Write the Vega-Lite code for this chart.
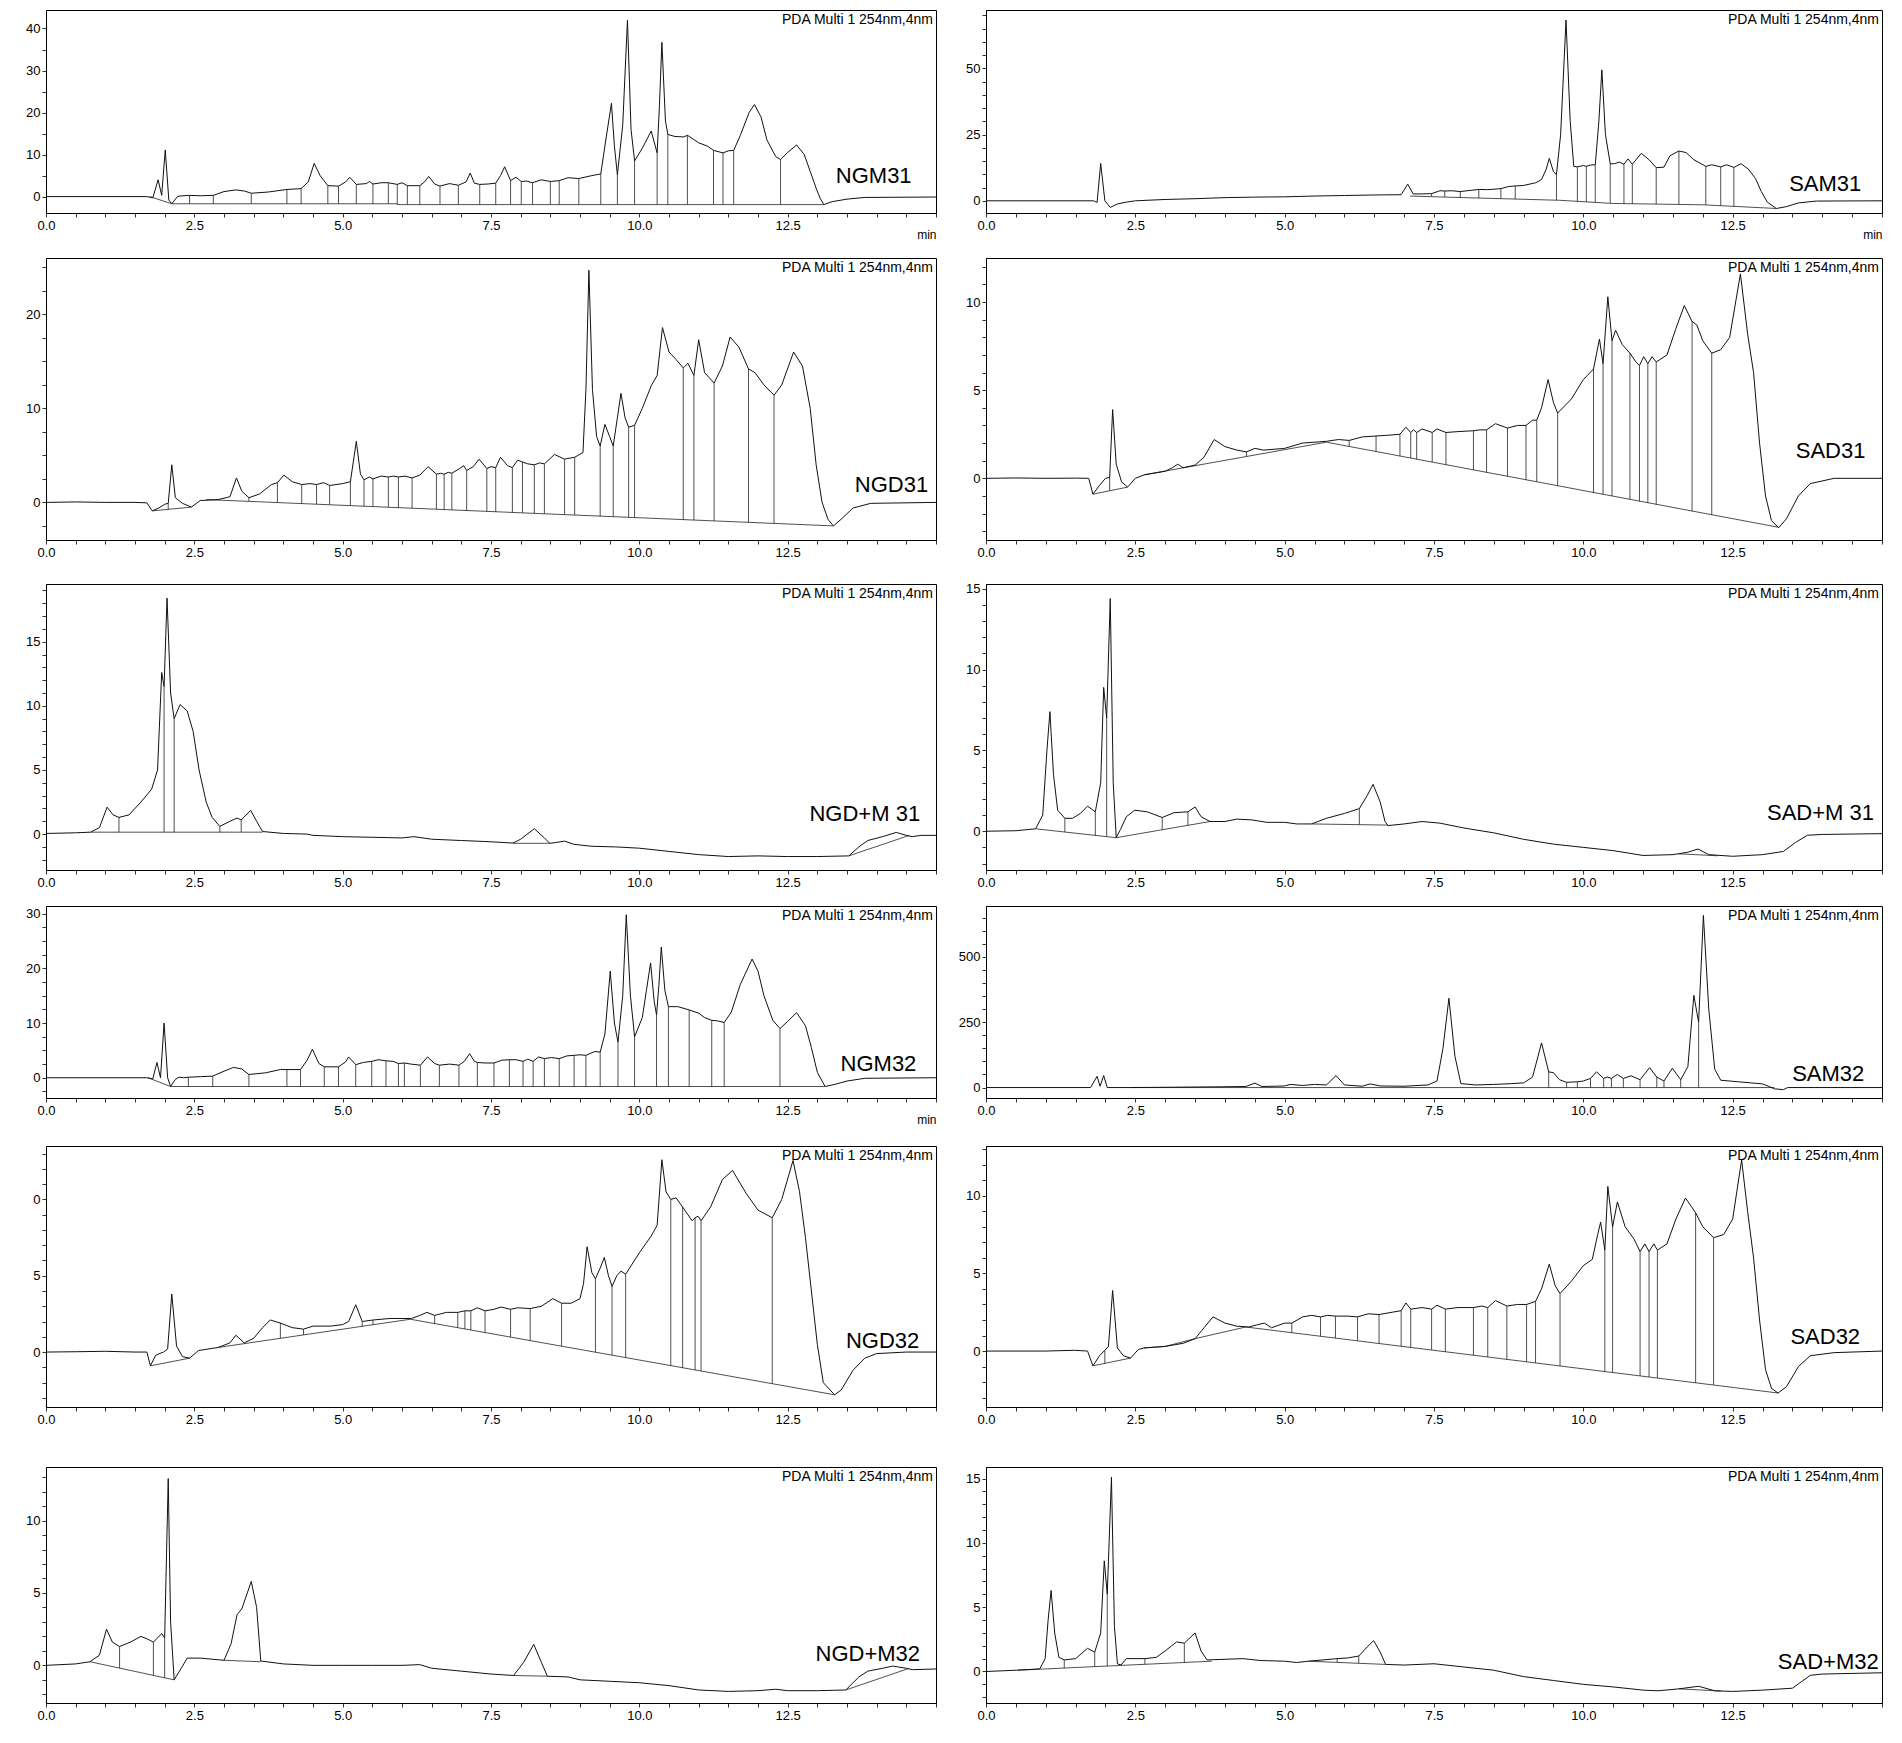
{
"$schema":"https://vega.github.io/schema/vega-lite/v6.json",
"background":"white",
"padding":{"left":15,"top":8,"right":5,"bottom":5},
"config":{
"view":{"stroke":"#000","strokeWidth":1},
"axis":{"domainColor":"#000","domainWidth":1,"tickColor":"#000","tickSize":4,"tickWidth":0.8,"labelColor":"#000","labelFont":"Liberation Sans","labelFontSize":13,"labelPadding":2,"grid":false,"titleFont":"Liberation Sans","titleFontSize":12,"titleFontWeight":"normal","titleColor":"#000","labelOverlap":false,"labelFlush":false},
"axisY":{"minExtent":30,"maxExtent":30}
},
"datasets":{
"t1":[{"t":0,"v":0},{"t":1.7,"v":0},{"t":1.8,"v":-0.3},{"t":1.89,"v":4.0},{"t":1.95,"v":0.3},{"t":2.01,"v":11.1},{"t":2.07,"v":-0.8},{"t":2.12,"v":-1.7},{"t":2.22,"v":0.1},{"t":2.42,"v":0.3},{"t":2.6,"v":0.2},{"t":2.82,"v":0.3},{"t":3.0,"v":1.2},{"t":3.2,"v":1.6},{"t":3.35,"v":1.3},{"t":3.46,"v":0.8},{"t":3.75,"v":1.1},{"t":4.06,"v":1.7},{"t":4.3,"v":1.9},{"t":4.42,"v":3.5},{"t":4.52,"v":7.9},{"t":4.62,"v":5},{"t":4.75,"v":2.6},{"t":4.93,"v":2.5},{"t":5.05,"v":3.5},{"t":5.12,"v":4.6},{"t":5.23,"v":2.9},{"t":5.4,"v":3.1},{"t":5.45,"v":3.6},{"t":5.51,"v":3.0},{"t":5.65,"v":3.3},{"t":5.77,"v":3.3},{"t":5.92,"v":2.9},{"t":6.0,"v":3.3},{"t":6.09,"v":2.6},{"t":6.3,"v":2.6},{"t":6.38,"v":3.5},{"t":6.45,"v":4.8},{"t":6.55,"v":3.0},{"t":6.64,"v":2.5},{"t":6.8,"v":3.1},{"t":6.95,"v":2.7},{"t":7.08,"v":3.5},{"t":7.15,"v":5.6},{"t":7.22,"v":3.2},{"t":7.31,"v":2.9},{"t":7.45,"v":3.0},{"t":7.58,"v":3.2},{"t":7.66,"v":5},{"t":7.73,"v":7.1},{"t":7.83,"v":3.8},{"t":7.92,"v":4.6},{"t":8.01,"v":3.6},{"t":8.1,"v":3.7},{"t":8.2,"v":3.3},{"t":8.35,"v":4.0},{"t":8.5,"v":3.6},{"t":8.65,"v":3.8},{"t":8.8,"v":4.5},{"t":8.98,"v":4.3},{"t":9.2,"v":5.0},{"t":9.35,"v":5.4},{"t":9.43,"v":13},{"t":9.53,"v":22.2},{"t":9.58,"v":12},{"t":9.63,"v":5.2},{"t":9.72,"v":17},{"t":9.8,"v":42.0},{"t":9.86,"v":16},{"t":9.92,"v":8.5},{"t":10.05,"v":11.5},{"t":10.2,"v":15.6},{"t":10.3,"v":10.4},{"t":10.34,"v":22},{"t":10.38,"v":36.7},{"t":10.44,"v":18},{"t":10.48,"v":14.8},{"t":10.6,"v":14.3},{"t":10.75,"v":14.2},{"t":10.81,"v":14.6},{"t":11.0,"v":12.8},{"t":11.15,"v":12},{"t":11.25,"v":11.0},{"t":11.41,"v":10.4},{"t":11.5,"v":10.9},{"t":11.59,"v":11.0},{"t":11.7,"v":14.5},{"t":11.85,"v":20},{"t":11.94,"v":21.9},{"t":12.05,"v":19},{"t":12.15,"v":13.5},{"t":12.3,"v":9.5},{"t":12.38,"v":8.8},{"t":12.5,"v":10.5},{"t":12.65,"v":12.3},{"t":12.78,"v":10},{"t":12.88,"v":6},{"t":12.98,"v":2},{"t":13.05,"v":-0.5},{"t":13.11,"v":-1.9},{"t":13.25,"v":-1.2},{"t":13.5,"v":-0.6},{"t":13.8,"v":-0.2},{"t":15,"v":-0.1}],
"b1":[{"s":1,"t":1.75,"v":0},{"s":1,"t":2.12,"v":-1.7},{"s":1,"t":5.92,"v":-1.7},{"s":2,"t":5.92,"v":-1.9},{"s":2,"t":13.11,"v":-1.9}],
"d1":[{"t":2.42,"b":-1.7,"v":0.3},{"t":2.82,"b":-1.7,"v":0.3},{"t":3.46,"b":-1.7,"v":0.8},{"t":4.06,"b":-1.7,"v":1.7},{"t":4.3,"b":-1.7,"v":1.9},{"t":4.75,"b":-1.7,"v":2.6},{"t":4.93,"b":-1.7,"v":2.5},{"t":5.23,"b":-1.7,"v":2.9},{"t":5.51,"b":-1.7,"v":3.0},{"t":5.77,"b":-1.7,"v":3.3},{"t":5.92,"b":-1.9,"v":2.9},{"t":6.09,"b":-1.9,"v":2.6},{"t":6.3,"b":-1.9,"v":2.6},{"t":6.64,"b":-1.9,"v":2.5},{"t":6.95,"b":-1.9,"v":2.7},{"t":7.31,"b":-1.9,"v":2.9},{"t":7.58,"b":-1.9,"v":3.2},{"t":7.83,"b":-1.9,"v":3.8},{"t":8.01,"b":-1.9,"v":3.6},{"t":8.2,"b":-1.9,"v":3.3},{"t":8.5,"b":-1.9,"v":3.6},{"t":8.65,"b":-1.9,"v":3.8},{"t":8.98,"b":-1.9,"v":4.3},{"t":9.35,"b":-1.9,"v":5.4},{"t":9.63,"b":-1.9,"v":5.2},{"t":9.92,"b":-1.9,"v":8.5},{"t":10.3,"b":-1.9,"v":10.4},{"t":10.48,"b":-1.9,"v":14.8},{"t":10.81,"b":-1.9,"v":14.6},{"t":11.25,"b":-1.9,"v":11.0},{"t":11.41,"b":-1.9,"v":10.4},{"t":11.59,"b":-1.9,"v":11.0},{"t":12.38,"b":-1.9,"v":8.8}],
"t2":[{"t":0,"v":0},{"t":1.8,"v":0},{"t":1.86,"v":-0.6},{"t":1.92,"v":14.1},{"t":1.99,"v":0},{"t":2.08,"v":-2.5},{"t":2.2,"v":-1.2},{"t":2.35,"v":-0.5},{"t":2.5,"v":0},{"t":3.0,"v":0.5},{"t":3.5,"v":0.8},{"t":4.0,"v":1.2},{"t":4.5,"v":1.4},{"t":5.0,"v":1.5},{"t":5.5,"v":1.8},{"t":6.0,"v":2.0},{"t":6.5,"v":2.2},{"t":6.95,"v":2.3},{"t":7.06,"v":6.3},{"t":7.15,"v":2.6},{"t":7.3,"v":2.6},{"t":7.46,"v":2.7},{"t":7.6,"v":3.8},{"t":7.68,"v":3.7},{"t":7.8,"v":3.8},{"t":7.94,"v":3.5},{"t":8.1,"v":3.9},{"t":8.25,"v":4.3},{"t":8.4,"v":4.2},{"t":8.62,"v":4.6},{"t":8.75,"v":5.4},{"t":8.86,"v":5.6},{"t":9.0,"v":5.8},{"t":9.2,"v":6.8},{"t":9.3,"v":8},{"t":9.38,"v":12},{"t":9.43,"v":16.0},{"t":9.5,"v":11},{"t":9.55,"v":9.9},{"t":9.62,"v":25},{"t":9.71,"v":68.2},{"t":9.78,"v":30},{"t":9.84,"v":13},{"t":9.9,"v":12.8},{"t":10.0,"v":13.3},{"t":10.05,"v":13.0},{"t":10.12,"v":13.5},{"t":10.2,"v":13.6},{"t":10.26,"v":30},{"t":10.31,"v":49.4},{"t":10.37,"v":25},{"t":10.45,"v":14},{"t":10.52,"v":14.0},{"t":10.6,"v":14.6},{"t":10.68,"v":13.8},{"t":10.75,"v":15.8},{"t":10.82,"v":13.8},{"t":10.97,"v":17.9},{"t":11.1,"v":15.5},{"t":11.22,"v":12.5},{"t":11.35,"v":12.7},{"t":11.45,"v":17},{"t":11.6,"v":18.8},{"t":11.72,"v":18.2},{"t":11.85,"v":15.5},{"t":12.05,"v":13.0},{"t":12.15,"v":13.6},{"t":12.3,"v":12.8},{"t":12.4,"v":13.6},{"t":12.52,"v":12.6},{"t":12.64,"v":14.0},{"t":12.76,"v":12},{"t":12.88,"v":8.5},{"t":12.98,"v":3.5},{"t":13.08,"v":-0.5},{"t":13.23,"v":-2.9},{"t":13.4,"v":-2.2},{"t":13.6,"v":-0.8},{"t":13.9,"v":-0.1},{"t":15,"v":0}],
"b2":[{"s":1,"t":7.1,"v":1.8},{"s":1,"t":8.0,"v":1.2},{"s":1,"t":9.6,"v":0.2},{"s":1,"t":10.5,"v":-1.0},{"s":1,"t":12.0,"v":-1.5},{"s":1,"t":13.23,"v":-2.9}],
"d2":[{"t":7.46,"b":1.56,"v":2.7},{"t":7.68,"b":1.41,"v":3.7},{"t":7.94,"b":1.24,"v":3.5},{"t":8.25,"b":1.04,"v":4.3},{"t":8.62,"b":0.81,"v":4.6},{"t":8.86,"b":0.66,"v":5.6},{"t":9.55,"b":0.23,"v":9.9},{"t":9.9,"b":-0.2,"v":12.8},{"t":10.05,"b":-0.4,"v":13.0},{"t":10.2,"b":-0.6,"v":13.6},{"t":10.45,"b":-0.93,"v":14.0},{"t":10.68,"b":-1.06,"v":13.8},{"t":10.82,"b":-1.11,"v":13.8},{"t":11.22,"b":-1.24,"v":12.5},{"t":11.6,"b":-1.37,"v":18.8},{"t":12.05,"b":-1.56,"v":13.0},{"t":12.3,"b":-1.84,"v":12.8},{"t":12.52,"b":-2.08,"v":12.6}],
"t3":[{"t":0,"v":0},{"t":0.5,"v":0.05},{"t":1.0,"v":0},{"t":1.5,"v":0},{"t":1.7,"v":-0.05},{"t":1.79,"v":-0.9},{"t":1.9,"v":-0.6},{"t":2.0,"v":-0.2},{"t":2.06,"v":-0.1},{"t":2.12,"v":4.0},{"t":2.18,"v":0.5},{"t":2.3,"v":-0.1},{"t":2.45,"v":-0.5},{"t":2.6,"v":0.2},{"t":2.9,"v":0.3},{"t":3.1,"v":0.6},{"t":3.21,"v":2.6},{"t":3.3,"v":1.2},{"t":3.42,"v":0.5},{"t":3.6,"v":0.9},{"t":3.8,"v":1.9},{"t":3.9,"v":2.1},{"t":4.01,"v":2.9},{"t":4.15,"v":2.2},{"t":4.31,"v":1.9},{"t":4.45,"v":2.0},{"t":4.56,"v":1.9},{"t":4.68,"v":2.1},{"t":4.78,"v":1.8},{"t":5.0,"v":2.0},{"t":5.13,"v":2.2},{"t":5.23,"v":6.5},{"t":5.3,"v":3},{"t":5.36,"v":2.4},{"t":5.45,"v":2.7},{"t":5.51,"v":2.5},{"t":5.65,"v":2.8},{"t":5.77,"v":2.7},{"t":5.85,"v":2.8},{"t":5.94,"v":2.7},{"t":6.05,"v":2.8},{"t":6.17,"v":2.6},{"t":6.3,"v":2.9},{"t":6.44,"v":3.8},{"t":6.58,"v":3.0},{"t":6.65,"v":3.1},{"t":6.71,"v":3.0},{"t":6.78,"v":3.2},{"t":6.84,"v":3.1},{"t":6.97,"v":3.6},{"t":7.04,"v":3.9},{"t":7.09,"v":3.4},{"t":7.2,"v":3.8},{"t":7.3,"v":4.6},{"t":7.43,"v":3.6},{"t":7.5,"v":3.8},{"t":7.58,"v":3.7},{"t":7.66,"v":4.8},{"t":7.78,"v":3.9},{"t":7.86,"v":3.7},{"t":7.95,"v":4.5},{"t":8.03,"v":4.3},{"t":8.12,"v":4.1},{"t":8.23,"v":4.0},{"t":8.32,"v":4.2},{"t":8.4,"v":4.1},{"t":8.57,"v":5.1},{"t":8.74,"v":4.6},{"t":8.82,"v":4.7},{"t":8.91,"v":4.8},{"t":9.05,"v":5.3},{"t":9.1,"v":12},{"t":9.15,"v":24.7},{"t":9.21,"v":12},{"t":9.28,"v":7},{"t":9.34,"v":6.0},{"t":9.42,"v":8.3},{"t":9.5,"v":7},{"t":9.56,"v":6.0},{"t":9.63,"v":9},{"t":9.69,"v":11.6},{"t":9.76,"v":9},{"t":9.82,"v":8.0},{"t":9.92,"v":8.2},{"t":10.05,"v":10},{"t":10.2,"v":12.4},{"t":10.3,"v":13.5},{"t":10.39,"v":18.6},{"t":10.5,"v":16},{"t":10.62,"v":15.2},{"t":10.74,"v":14.3},{"t":10.82,"v":14.8},{"t":10.92,"v":13.5},{"t":11.0,"v":17.3},{"t":11.1,"v":13.8},{"t":11.26,"v":12.7},{"t":11.4,"v":14.5},{"t":11.53,"v":17.6},{"t":11.68,"v":16.5},{"t":11.84,"v":14.2},{"t":11.95,"v":13.8},{"t":12.1,"v":12.5},{"t":12.27,"v":11.4},{"t":12.4,"v":12.5},{"t":12.6,"v":16.0},{"t":12.75,"v":14.5},{"t":12.88,"v":10},{"t":12.98,"v":4},{"t":13.08,"v":0},{"t":13.18,"v":-1.8},{"t":13.27,"v":-2.5},{"t":13.4,"v":-1.8},{"t":13.6,"v":-0.6},{"t":13.9,"v":-0.1},{"t":15,"v":0}],
"b3":[{"s":1,"t":1.79,"v":-0.9},{"s":1,"t":2.45,"v":-0.5},{"s":2,"t":2.7,"v":0.3},{"s":2,"t":13.27,"v":-2.5}],
"d3":[{"t":2.06,"b":-0.74,"v":-0.1},{"t":3.42,"b":0.11,"v":0.5},{"t":3.9,"b":-0.02,"v":2.1},{"t":4.31,"b":-0.13,"v":1.9},{"t":4.56,"b":-0.19,"v":1.9},{"t":4.78,"b":-0.25,"v":1.8},{"t":5.13,"b":-0.34,"v":2.2},{"t":5.36,"b":-0.4,"v":2.4},{"t":5.51,"b":-0.44,"v":2.5},{"t":5.77,"b":-0.51,"v":2.7},{"t":5.94,"b":-0.56,"v":2.7},{"t":6.17,"b":-0.62,"v":2.6},{"t":6.58,"b":-0.73,"v":3.0},{"t":6.71,"b":-0.76,"v":3.0},{"t":6.84,"b":-0.8,"v":3.1},{"t":7.09,"b":-0.86,"v":3.4},{"t":7.43,"b":-0.95,"v":3.6},{"t":7.58,"b":-0.99,"v":3.7},{"t":7.86,"b":-1.07,"v":3.7},{"t":8.03,"b":-1.11,"v":4.3},{"t":8.23,"b":-1.17,"v":4.0},{"t":8.4,"b":-1.21,"v":4.1},{"t":8.74,"b":-1.3,"v":4.6},{"t":8.91,"b":-1.35,"v":4.8},{"t":9.34,"b":-1.46,"v":6.0},{"t":9.56,"b":-1.52,"v":6.0},{"t":9.82,"b":-1.59,"v":8.0},{"t":9.92,"b":-1.61,"v":8.2},{"t":10.74,"b":-1.83,"v":14.3},{"t":10.92,"b":-1.88,"v":13.5},{"t":11.26,"b":-1.97,"v":12.7},{"t":11.84,"b":-2.12,"v":14.2},{"t":12.27,"b":-2.24,"v":11.4}],
"t4":[{"t":0,"v":0},{"t":0.5,"v":0.02},{"t":1.0,"v":0},{"t":1.5,"v":0.01},{"t":1.72,"v":0},{"t":1.79,"v":-0.9},{"t":1.9,"v":-0.4},{"t":2.0,"v":0.0},{"t":2.07,"v":0.05},{"t":2.12,"v":3.9},{"t":2.18,"v":0.8},{"t":2.27,"v":-0.2},{"t":2.37,"v":-0.5},{"t":2.5,"v":0.0},{"t":2.65,"v":0.2},{"t":3.0,"v":0.4},{"t":3.12,"v":0.6},{"t":3.21,"v":0.8},{"t":3.3,"v":0.6},{"t":3.5,"v":0.75},{"t":3.65,"v":1.2},{"t":3.82,"v":2.2},{"t":4.0,"v":1.8},{"t":4.2,"v":1.6},{"t":4.36,"v":1.5},{"t":4.5,"v":1.7},{"t":4.65,"v":1.6},{"t":5.0,"v":1.7},{"t":5.3,"v":2.0},{"t":5.7,"v":2.1},{"t":5.9,"v":2.2},{"t":6.08,"v":2.15},{"t":6.3,"v":2.35},{"t":6.53,"v":2.4},{"t":6.75,"v":2.45},{"t":6.93,"v":2.5},{"t":7.03,"v":2.9},{"t":7.11,"v":2.6},{"t":7.16,"v":2.75},{"t":7.21,"v":2.6},{"t":7.3,"v":2.8},{"t":7.47,"v":2.6},{"t":7.55,"v":2.8},{"t":7.7,"v":2.6},{"t":7.9,"v":2.65},{"t":8.16,"v":2.7},{"t":8.27,"v":2.75},{"t":8.38,"v":2.75},{"t":8.53,"v":3.1},{"t":8.73,"v":2.85},{"t":8.9,"v":3.0},{"t":9.04,"v":3.0},{"t":9.15,"v":3.3},{"t":9.22,"v":3.3},{"t":9.3,"v":4.0},{"t":9.41,"v":5.6},{"t":9.5,"v":4.3},{"t":9.57,"v":3.7},{"t":9.8,"v":4.5},{"t":10.0,"v":5.6},{"t":10.17,"v":6.2},{"t":10.27,"v":7.9},{"t":10.33,"v":6.5},{"t":10.41,"v":10.3},{"t":10.48,"v":7.8},{"t":10.54,"v":8.4},{"t":10.65,"v":7.6},{"t":10.78,"v":7.1},{"t":10.88,"v":6.6},{"t":10.94,"v":6.4},{"t":11.01,"v":6.9},{"t":11.08,"v":6.5},{"t":11.15,"v":6.9},{"t":11.22,"v":6.6},{"t":11.4,"v":7.0},{"t":11.55,"v":8.5},{"t":11.69,"v":9.8},{"t":11.82,"v":8.9},{"t":11.9,"v":8.7},{"t":12.0,"v":7.8},{"t":12.15,"v":7.1},{"t":12.3,"v":7.3},{"t":12.45,"v":8.0},{"t":12.63,"v":11.6},{"t":12.75,"v":8.2},{"t":12.85,"v":6.0},{"t":12.95,"v":2.0},{"t":13.05,"v":-1.0},{"t":13.15,"v":-2.4},{"t":13.27,"v":-2.8},{"t":13.4,"v":-2.3},{"t":13.6,"v":-1.0},{"t":13.8,"v":-0.3},{"t":14.2,"v":0},{"t":15,"v":0}],
"b4":[{"s":1,"t":1.79,"v":-0.9},{"s":1,"t":2.37,"v":-0.5},{"s":2,"t":2.65,"v":0.2},{"s":2,"t":5.7,"v":2.05},{"s":2,"t":13.27,"v":-2.78}],
"d4":[{"t":2.07,"b":-0.71,"v":0.05},{"t":4.36,"b":1.24,"v":1.5},{"t":6.08,"b":1.81,"v":2.15},{"t":6.53,"b":1.53,"v":2.4},{"t":6.93,"b":1.26,"v":2.5},{"t":7.11,"b":1.15,"v":2.6},{"t":7.21,"b":1.08,"v":2.6},{"t":7.47,"b":0.92,"v":2.6},{"t":7.7,"b":0.77,"v":2.6},{"t":8.16,"b":0.47,"v":2.7},{"t":8.38,"b":0.33,"v":2.75},{"t":8.73,"b":0.11,"v":2.85},{"t":9.04,"b":-0.09,"v":3.0},{"t":9.22,"b":-0.2,"v":3.3},{"t":9.57,"b":-0.43,"v":3.7},{"t":10.17,"b":-0.81,"v":6.2},{"t":10.33,"b":-0.92,"v":6.5},{"t":10.48,"b":-1.01,"v":7.8},{"t":10.78,"b":-1.2,"v":7.1},{"t":10.94,"b":-1.31,"v":6.4},{"t":11.08,"b":-1.4,"v":6.5},{"t":11.22,"b":-1.49,"v":6.6},{"t":11.82,"b":-1.87,"v":8.9},{"t":12.15,"b":-2.08,"v":7.1}],
"t5":[{"t":0,"v":0.05},{"t":0.5,"v":0.1},{"t":0.75,"v":0.15},{"t":0.9,"v":0.5},{"t":1.03,"v":2.1},{"t":1.13,"v":1.5},{"t":1.23,"v":1.3},{"t":1.4,"v":1.5},{"t":1.6,"v":2.5},{"t":1.78,"v":3.5},{"t":1.88,"v":5},{"t":1.95,"v":12.6},{"t":1.99,"v":11.5},{"t":2.04,"v":18.4},{"t":2.1,"v":11},{"t":2.16,"v":9.0},{"t":2.26,"v":10.1},{"t":2.38,"v":9.6},{"t":2.48,"v":8},{"t":2.58,"v":5},{"t":2.7,"v":2.5},{"t":2.8,"v":1.3},{"t":2.93,"v":0.6},{"t":3.1,"v":1.0},{"t":3.22,"v":1.25},{"t":3.29,"v":1.1},{"t":3.45,"v":1.85},{"t":3.55,"v":1.0},{"t":3.65,"v":0.2},{"t":4.0,"v":0.05},{"t":4.4,"v":0.0},{"t":4.5,"v":-0.1},{"t":5.0,"v":-0.2},{"t":5.5,"v":-0.25},{"t":6.0,"v":-0.3},{"t":6.2,"v":-0.2},{"t":6.5,"v":-0.4},{"t":7.0,"v":-0.5},{"t":7.5,"v":-0.6},{"t":7.87,"v":-0.7},{"t":8.0,"v":-0.4},{"t":8.23,"v":0.42},{"t":8.4,"v":-0.3},{"t":8.49,"v":-0.72},{"t":8.6,"v":-0.65},{"t":8.74,"v":-0.55},{"t":8.9,"v":-0.8},{"t":9.2,"v":-0.95},{"t":9.6,"v":-1.0},{"t":10.0,"v":-1.1},{"t":10.5,"v":-1.35},{"t":11.0,"v":-1.6},{"t":11.5,"v":-1.75},{"t":12.0,"v":-1.7},{"t":12.5,"v":-1.75},{"t":13.0,"v":-1.75},{"t":13.53,"v":-1.7},{"t":13.7,"v":-1.0},{"t":13.85,"v":-0.5},{"t":14.1,"v":-0.2},{"t":14.33,"v":0.13},{"t":14.5,"v":-0.1},{"t":14.6,"v":-0.2},{"t":14.75,"v":-0.1},{"t":15,"v":-0.1}],
"b5":[{"s":1,"t":0.75,"v":0.15},{"s":1,"t":3.65,"v":0.15},{"s":2,"t":7.87,"v":-0.72},{"s":2,"t":8.49,"v":-0.72},{"s":3,"t":13.53,"v":-1.7},{"s":3,"t":14.55,"v":-0.1}],
"d5":[{"t":1.23,"b":0.15,"v":1.3},{"t":1.99,"b":0.15,"v":11.5},{"t":2.16,"b":0.15,"v":9.0},{"t":2.93,"b":0.15,"v":0.6},{"t":3.29,"b":0.15,"v":1.1}],
"t6":[{"t":0,"v":0},{"t":0.5,"v":0.03},{"t":0.83,"v":0.15},{"t":0.95,"v":1.0},{"t":1.02,"v":5},{"t":1.07,"v":7.4},{"t":1.13,"v":3.5},{"t":1.2,"v":1.3},{"t":1.32,"v":0.8},{"t":1.45,"v":0.8},{"t":1.58,"v":1.1},{"t":1.7,"v":1.55},{"t":1.83,"v":1.2},{"t":1.92,"v":3},{"t":1.97,"v":8.9},{"t":2.02,"v":7},{"t":2.08,"v":14.4},{"t":2.13,"v":3},{"t":2.18,"v":-0.4},{"t":2.25,"v":0.1},{"t":2.35,"v":0.9},{"t":2.49,"v":1.3},{"t":2.7,"v":1.2},{"t":2.95,"v":0.85},{"t":3.15,"v":1.15},{"t":3.38,"v":1.2},{"t":3.5,"v":1.5},{"t":3.6,"v":0.9},{"t":3.75,"v":0.6},{"t":4.0,"v":0.6},{"t":4.2,"v":0.75},{"t":4.45,"v":0.7},{"t":4.7,"v":0.55},{"t":5.0,"v":0.55},{"t":5.2,"v":0.45},{"t":5.45,"v":0.45},{"t":5.7,"v":0.8},{"t":6.0,"v":1.1},{"t":6.25,"v":1.4},{"t":6.38,"v":2.2},{"t":6.48,"v":2.9},{"t":6.6,"v":1.8},{"t":6.68,"v":0.6},{"t":6.73,"v":0.35},{"t":7.0,"v":0.45},{"t":7.3,"v":0.6},{"t":7.6,"v":0.5},{"t":8.0,"v":0.2},{"t":8.5,"v":-0.1},{"t":9.0,"v":-0.5},{"t":9.5,"v":-0.8},{"t":10.0,"v":-1.0},{"t":10.5,"v":-1.2},{"t":11.0,"v":-1.5},{"t":11.5,"v":-1.45},{"t":11.75,"v":-1.3},{"t":11.92,"v":-1.1},{"t":12.1,"v":-1.45},{"t":12.5,"v":-1.55},{"t":13.0,"v":-1.45},{"t":13.35,"v":-1.25},{"t":13.55,"v":-0.7},{"t":13.75,"v":-0.25},{"t":14.0,"v":-0.2},{"t":15,"v":-0.15}],
"b6":[{"s":1,"t":0.83,"v":0.15},{"s":1,"t":2.18,"v":-0.4},{"s":2,"t":2.18,"v":-0.4},{"s":2,"t":3.75,"v":0.6},{"s":3,"t":5.45,"v":0.45},{"s":3,"t":6.73,"v":0.38},{"s":4,"t":11.6,"v":-1.4},{"s":4,"t":12.25,"v":-1.52}],
"d6":[{"t":1.32,"b":-0.05,"v":0.8},{"t":1.83,"b":-0.26,"v":1.2},{"t":2.02,"b":-0.33,"v":7},{"t":2.95,"b":0.09,"v":0.85},{"t":3.38,"b":0.36,"v":1.2},{"t":6.25,"b":0.41,"v":1.4}],
"t7":[{"t":0,"v":0},{"t":1.7,"v":0},{"t":1.8,"v":-0.2},{"t":1.87,"v":2.8},{"t":1.93,"v":0},{"t":1.99,"v":10.0},{"t":2.05,"v":0},{"t":2.1,"v":-1.6},{"t":2.18,"v":-0.3},{"t":2.24,"v":0.1},{"t":2.32,"v":0.0},{"t":2.4,"v":0.1},{"t":2.6,"v":0.2},{"t":2.81,"v":0.3},{"t":3.0,"v":1.2},{"t":3.16,"v":1.9},{"t":3.3,"v":1.6},{"t":3.42,"v":0.6},{"t":3.7,"v":0.9},{"t":3.95,"v":1.5},{"t":4.06,"v":1.5},{"t":4.29,"v":1.5},{"t":4.4,"v":3.2},{"t":4.49,"v":5.2},{"t":4.6,"v":2.6},{"t":4.69,"v":2.0},{"t":4.93,"v":2.0},{"t":5.05,"v":2.9},{"t":5.1,"v":3.8},{"t":5.22,"v":2.4},{"t":5.35,"v":2.8},{"t":5.49,"v":3.0},{"t":5.6,"v":3.3},{"t":5.73,"v":3.1},{"t":5.85,"v":3.0},{"t":5.94,"v":2.6},{"t":6.04,"v":2.7},{"t":6.15,"v":2.5},{"t":6.31,"v":2.3},{"t":6.43,"v":3.8},{"t":6.55,"v":2.6},{"t":6.63,"v":2.3},{"t":6.8,"v":2.5},{"t":6.96,"v":2.3},{"t":7.05,"v":3},{"t":7.14,"v":4.4},{"t":7.22,"v":3.0},{"t":7.27,"v":2.8},{"t":7.4,"v":2.7},{"t":7.55,"v":2.7},{"t":7.68,"v":3.2},{"t":7.81,"v":3.3},{"t":7.92,"v":3.3},{"t":8.04,"v":3.0},{"t":8.12,"v":3.4},{"t":8.21,"v":3.0},{"t":8.3,"v":3.8},{"t":8.4,"v":3.5},{"t":8.52,"v":3.7},{"t":8.65,"v":3.5},{"t":8.78,"v":4.0},{"t":8.9,"v":4.1},{"t":9.0,"v":4.2},{"t":9.1,"v":4.1},{"t":9.25,"v":4.8},{"t":9.34,"v":4.7},{"t":9.42,"v":8},{"t":9.51,"v":19.5},{"t":9.58,"v":10},{"t":9.64,"v":6.5},{"t":9.72,"v":15},{"t":9.78,"v":29.8},{"t":9.85,"v":15},{"t":9.92,"v":7.5},{"t":10.05,"v":11},{"t":10.12,"v":16},{"t":10.19,"v":21.0},{"t":10.25,"v":14},{"t":10.29,"v":11.5},{"t":10.33,"v":17},{"t":10.37,"v":23.9},{"t":10.43,"v":16},{"t":10.49,"v":13.0},{"t":10.65,"v":13.0},{"t":10.84,"v":12.4},{"t":11.0,"v":11.8},{"t":11.1,"v":11.0},{"t":11.22,"v":10.5},{"t":11.32,"v":10.4},{"t":11.43,"v":10.1},{"t":11.55,"v":12},{"t":11.7,"v":17},{"t":11.9,"v":21.7},{"t":12.0,"v":19.5},{"t":12.1,"v":15},{"t":12.25,"v":10.5},{"t":12.37,"v":9.0},{"t":12.5,"v":10.3},{"t":12.65,"v":11.9},{"t":12.8,"v":9.5},{"t":12.9,"v":5.5},{"t":13.0,"v":1},{"t":13.13,"v":-1.6},{"t":13.3,"v":-1.2},{"t":13.5,"v":-0.6},{"t":13.8,"v":-0.1},{"t":15,"v":0}],
"b7":[{"s":1,"t":1.72,"v":0},{"s":1,"t":2.1,"v":-1.6},{"s":1,"t":13.13,"v":-1.6}],
"d7":[{"t":2.4,"b":-1.6,"v":0.1},{"t":2.81,"b":-1.6,"v":0.3},{"t":3.42,"b":-1.6,"v":0.6},{"t":4.06,"b":-1.6,"v":1.5},{"t":4.29,"b":-1.6,"v":1.5},{"t":4.69,"b":-1.6,"v":2.0},{"t":4.93,"b":-1.6,"v":2.0},{"t":5.22,"b":-1.6,"v":2.4},{"t":5.49,"b":-1.6,"v":3.0},{"t":5.73,"b":-1.6,"v":3.1},{"t":5.94,"b":-1.6,"v":2.6},{"t":6.04,"b":-1.6,"v":2.7},{"t":6.31,"b":-1.6,"v":2.3},{"t":6.63,"b":-1.6,"v":2.3},{"t":6.96,"b":-1.6,"v":2.3},{"t":7.27,"b":-1.6,"v":2.8},{"t":7.55,"b":-1.6,"v":2.7},{"t":7.81,"b":-1.6,"v":3.3},{"t":8.04,"b":-1.6,"v":3.0},{"t":8.21,"b":-1.6,"v":3.0},{"t":8.4,"b":-1.6,"v":3.5},{"t":8.65,"b":-1.6,"v":3.5},{"t":8.9,"b":-1.6,"v":4.1},{"t":9.1,"b":-1.6,"v":4.1},{"t":9.34,"b":-1.6,"v":4.7},{"t":9.64,"b":-1.6,"v":6.5},{"t":9.92,"b":-1.6,"v":7.5},{"t":10.29,"b":-1.6,"v":11.5},{"t":10.49,"b":-1.6,"v":13.0},{"t":10.84,"b":-1.6,"v":12.4},{"t":11.22,"b":-1.6,"v":10.5},{"t":11.43,"b":-1.6,"v":10.1},{"t":12.37,"b":-1.6,"v":9.0}],
"t8":[{"t":0,"v":0},{"t":1.75,"v":0},{"t":1.86,"v":43},{"t":1.91,"v":5},{"t":1.97,"v":46},{"t":2.03,"v":0},{"t":2.4,"v":0},{"t":3.0,"v":1},{"t":3.5,"v":2},{"t":4.0,"v":3},{"t":4.35,"v":4},{"t":4.5,"v":17},{"t":4.62,"v":4},{"t":5.0,"v":6},{"t":5.09,"v":12},{"t":5.3,"v":8},{"t":5.5,"v":12},{"t":5.7,"v":10},{"t":5.86,"v":46},{"t":6.0,"v":10},{"t":6.3,"v":5},{"t":6.43,"v":14},{"t":6.6,"v":6},{"t":7.0,"v":5},{"t":7.4,"v":10},{"t":7.55,"v":25},{"t":7.65,"v":150},{"t":7.75,"v":342},{"t":7.85,"v":120},{"t":7.95,"v":15},{"t":8.2,"v":10},{"t":8.5,"v":12},{"t":8.8,"v":15},{"t":9.0,"v":18},{"t":9.15,"v":40},{"t":9.3,"v":171},{"t":9.42,"v":60},{"t":9.5,"v":57},{"t":9.6,"v":30},{"t":9.72,"v":20},{"t":9.9,"v":22},{"t":10.0,"v":25},{"t":10.12,"v":35},{"t":10.22,"v":60},{"t":10.34,"v":35},{"t":10.4,"v":40},{"t":10.47,"v":35},{"t":10.57,"v":50},{"t":10.67,"v":35},{"t":10.8,"v":45},{"t":10.95,"v":30},{"t":11.11,"v":76},{"t":11.23,"v":40},{"t":11.35,"v":25},{"t":11.49,"v":74},{"t":11.63,"v":30},{"t":11.75,"v":80},{"t":11.85,"v":353},{"t":11.93,"v":250},{"t":12.01,"v":659},{"t":12.1,"v":300},{"t":12.2,"v":70},{"t":12.3,"v":28},{"t":12.6,"v":22},{"t":12.8,"v":18},{"t":13.0,"v":14},{"t":13.1,"v":5},{"t":13.2,"v":-5},{"t":13.35,"v":-8},{"t":13.42,"v":0},{"t":15,"v":0}],
"b8":[{"s":1,"t":2.4,"v":0},{"s":1,"t":13.2,"v":0}],
"d8":[{"t":9.42,"b":0,"v":60},{"t":9.72,"b":0,"v":20},{"t":9.9,"b":0,"v":22},{"t":10.12,"b":0,"v":35},{"t":10.34,"b":0,"v":35},{"t":10.47,"b":0,"v":35},{"t":10.67,"b":0,"v":35},{"t":10.95,"b":0,"v":30},{"t":11.23,"b":0,"v":40},{"t":11.35,"b":0,"v":25},{"t":11.63,"b":0,"v":30},{"t":11.93,"b":0,"v":250}],
"t9":[{"t":0,"v":0},{"t":0.5,"v":0.02},{"t":1.0,"v":0.05},{"t":1.5,"v":0},{"t":1.7,"v":0},{"t":1.76,"v":-0.9},{"t":1.85,"v":-0.2},{"t":1.98,"v":0},{"t":2.05,"v":0.2},{"t":2.12,"v":3.8},{"t":2.2,"v":0.4},{"t":2.3,"v":-0.3},{"t":2.42,"v":-0.4},{"t":2.57,"v":0.1},{"t":2.9,"v":0.3},{"t":3.1,"v":0.6},{"t":3.2,"v":1.1},{"t":3.34,"v":0.6},{"t":3.5,"v":0.9},{"t":3.65,"v":1.6},{"t":3.78,"v":2.1},{"t":3.95,"v":1.9},{"t":4.15,"v":1.6},{"t":4.34,"v":1.5},{"t":4.5,"v":1.7},{"t":4.8,"v":1.7},{"t":5.0,"v":1.8},{"t":5.1,"v":2.0},{"t":5.22,"v":3.1},{"t":5.33,"v":2.0},{"t":5.51,"v":2.1},{"t":5.8,"v":2.2},{"t":6.16,"v":2.2},{"t":6.3,"v":2.4},{"t":6.42,"v":2.6},{"t":6.55,"v":2.4},{"t":6.75,"v":2.6},{"t":6.94,"v":2.6},{"t":7.06,"v":2.7},{"t":7.16,"v":2.7},{"t":7.27,"v":2.9},{"t":7.4,"v":2.7},{"t":7.55,"v":2.8},{"t":7.67,"v":2.95},{"t":7.83,"v":2.8},{"t":7.95,"v":2.9},{"t":8.16,"v":2.85},{"t":8.35,"v":3.0},{"t":8.54,"v":3.5},{"t":8.69,"v":3.2},{"t":8.85,"v":3.2},{"t":9.0,"v":3.5},{"t":9.06,"v":4.5},{"t":9.12,"v":6.9},{"t":9.2,"v":5.2},{"t":9.26,"v":4.8},{"t":9.34,"v":5.5},{"t":9.41,"v":6.2},{"t":9.48,"v":5},{"t":9.54,"v":4.3},{"t":9.62,"v":5.0},{"t":9.69,"v":5.3},{"t":9.77,"v":5.1},{"t":10.0,"v":6.5},{"t":10.2,"v":7.6},{"t":10.3,"v":8.3},{"t":10.38,"v":12.6},{"t":10.45,"v":10.5},{"t":10.53,"v":10.0},{"t":10.62,"v":10.1},{"t":10.73,"v":9.5},{"t":10.89,"v":8.6},{"t":10.94,"v":8.8},{"t":10.99,"v":8.9},{"t":11.04,"v":8.6},{"t":11.2,"v":9.5},{"t":11.4,"v":11.3},{"t":11.57,"v":11.9},{"t":11.8,"v":10.4},{"t":12.0,"v":9.3},{"t":12.24,"v":8.8},{"t":12.4,"v":10},{"t":12.59,"v":12.55},{"t":12.7,"v":10.5},{"t":12.8,"v":7.5},{"t":12.9,"v":4},{"t":13.0,"v":0.5},{"t":13.1,"v":-2.0},{"t":13.29,"v":-2.8},{"t":13.4,"v":-2.5},{"t":13.6,"v":-1.2},{"t":13.8,"v":-0.4},{"t":14.0,"v":-0.1},{"t":14.5,"v":0},{"t":15,"v":0}],
"b9":[{"s":1,"t":1.76,"v":-0.9},{"s":1,"t":2.42,"v":-0.4},{"s":2,"t":2.9,"v":0.3},{"s":2,"t":6.14,"v":2.15},{"s":2,"t":13.29,"v":-2.8}],
"d9":[{"t":3.95,"b":0.9,"v":1.9},{"t":4.34,"b":1.12,"v":1.5},{"t":5.33,"b":1.69,"v":2.0},{"t":5.51,"b":1.79,"v":2.1},{"t":6.55,"b":1.87,"v":2.4},{"t":6.94,"b":1.6,"v":2.6},{"t":7.06,"b":1.51,"v":2.7},{"t":7.16,"b":1.44,"v":2.7},{"t":7.4,"b":1.28,"v":2.7},{"t":7.83,"b":0.98,"v":2.8},{"t":8.16,"b":0.75,"v":2.85},{"t":8.69,"b":0.39,"v":3.2},{"t":9.26,"b":-0.01,"v":4.8},{"t":9.54,"b":-0.2,"v":4.3},{"t":9.77,"b":-0.36,"v":5.1},{"t":10.53,"b":-0.89,"v":10.0},{"t":10.73,"b":-1.03,"v":9.5},{"t":10.94,"b":-1.17,"v":8.8},{"t":11.04,"b":-1.24,"v":8.6},{"t":12.24,"b":-2.07,"v":8.8}],
"t10":[{"t":0,"v":0},{"t":0.5,"v":0},{"t":1.0,"v":0},{"t":1.48,"v":0.05},{"t":1.7,"v":0},{"t":1.79,"v":-0.95},{"t":1.9,"v":-0.3},{"t":1.99,"v":0.05},{"t":2.05,"v":0.3},{"t":2.12,"v":3.9},{"t":2.2,"v":0.2},{"t":2.3,"v":-0.3},{"t":2.42,"v":-0.45},{"t":2.55,"v":0.1},{"t":2.64,"v":0.2},{"t":3.0,"v":0.3},{"t":3.3,"v":0.5},{"t":3.5,"v":0.8},{"t":3.65,"v":1.5},{"t":3.8,"v":2.2},{"t":4.0,"v":1.8},{"t":4.2,"v":1.6},{"t":4.4,"v":1.55},{"t":4.55,"v":1.7},{"t":4.66,"v":1.8},{"t":4.78,"v":1.5},{"t":5.0,"v":1.8},{"t":5.12,"v":1.8},{"t":5.3,"v":2.2},{"t":5.45,"v":2.3},{"t":5.6,"v":2.2},{"t":5.72,"v":2.3},{"t":5.85,"v":2.25},{"t":6.05,"v":2.25},{"t":6.22,"v":2.2},{"t":6.4,"v":2.4},{"t":6.58,"v":2.35},{"t":6.8,"v":2.5},{"t":6.95,"v":2.6},{"t":7.03,"v":3.1},{"t":7.11,"v":2.7},{"t":7.3,"v":2.8},{"t":7.46,"v":2.7},{"t":7.55,"v":2.95},{"t":7.69,"v":2.7},{"t":7.9,"v":2.8},{"t":8.16,"v":2.8},{"t":8.3,"v":2.9},{"t":8.4,"v":2.8},{"t":8.53,"v":3.25},{"t":8.72,"v":2.9},{"t":8.9,"v":3.0},{"t":9.05,"v":3.0},{"t":9.2,"v":3.2},{"t":9.3,"v":4.0},{"t":9.43,"v":5.6},{"t":9.53,"v":4.2},{"t":9.61,"v":3.7},{"t":9.8,"v":4.5},{"t":10.0,"v":5.5},{"t":10.15,"v":5.9},{"t":10.24,"v":7.5},{"t":10.29,"v":8.3},{"t":10.36,"v":6.5},{"t":10.41,"v":10.6},{"t":10.49,"v":8.0},{"t":10.57,"v":9.6},{"t":10.7,"v":8.0},{"t":10.85,"v":7.2},{"t":10.95,"v":6.4},{"t":11.03,"v":6.9},{"t":11.1,"v":6.4},{"t":11.18,"v":6.9},{"t":11.24,"v":6.5},{"t":11.4,"v":6.9},{"t":11.55,"v":8.5},{"t":11.71,"v":9.85},{"t":11.88,"v":8.9},{"t":12.0,"v":8.0},{"t":12.18,"v":7.3},{"t":12.35,"v":7.5},{"t":12.5,"v":8.5},{"t":12.65,"v":12.3},{"t":12.75,"v":9.0},{"t":12.85,"v":6.0},{"t":12.95,"v":2.0},{"t":13.05,"v":-1.2},{"t":13.15,"v":-2.4},{"t":13.26,"v":-2.7},{"t":13.4,"v":-2.3},{"t":13.6,"v":-1.0},{"t":13.8,"v":-0.3},{"t":14.2,"v":-0.1},{"t":15,"v":0}],
"b10":[{"s":1,"t":1.79,"v":-0.95},{"s":1,"t":2.42,"v":-0.45},{"s":2,"t":2.64,"v":0.2},{"s":2,"t":3.0,"v":0.3},{"s":2,"t":3.5,"v":0.8},{"s":2,"t":4.35,"v":1.55},{"s":2,"t":13.26,"v":-2.7}],
"d10":[{"t":1.99,"b":-0.8,"v":0.05},{"t":5.12,"b":1.18,"v":1.8},{"t":5.6,"b":0.95,"v":2.2},{"t":5.85,"b":0.83,"v":2.25},{"t":6.22,"b":0.66,"v":2.2},{"t":6.58,"b":0.49,"v":2.35},{"t":6.95,"b":0.31,"v":2.6},{"t":7.11,"b":0.23,"v":2.7},{"t":7.46,"b":0.07,"v":2.7},{"t":7.69,"b":-0.04,"v":2.7},{"t":8.16,"b":-0.27,"v":2.8},{"t":8.4,"b":-0.38,"v":2.8},{"t":8.72,"b":-0.53,"v":2.9},{"t":9.05,"b":-0.69,"v":3.0},{"t":9.2,"b":-0.76,"v":3.2},{"t":9.61,"b":-0.96,"v":3.7},{"t":10.36,"b":-1.32,"v":6.5},{"t":10.49,"b":-1.38,"v":8.0},{"t":10.95,"b":-1.6,"v":6.4},{"t":11.1,"b":-1.67,"v":6.4},{"t":11.24,"b":-1.74,"v":6.5},{"t":11.88,"b":-2.04,"v":8.9},{"t":12.18,"b":-2.18,"v":7.3}],
"t11":[{"t":0,"v":0},{"t":0.5,"v":0.1},{"t":0.74,"v":0.25},{"t":0.9,"v":0.7},{"t":1.02,"v":2.5},{"t":1.12,"v":1.6},{"t":1.24,"v":1.3},{"t":1.42,"v":1.6},{"t":1.6,"v":2.0},{"t":1.72,"v":1.8},{"t":1.81,"v":1.6},{"t":1.95,"v":2.2},{"t":2.0,"v":1.9},{"t":2.06,"v":12.9},{"t":2.1,"v":3},{"t":2.16,"v":-1.0},{"t":2.28,"v":-0.2},{"t":2.38,"v":0.5},{"t":2.6,"v":0.5},{"t":3.0,"v":0.35},{"t":3.12,"v":1.5},{"t":3.22,"v":3.5},{"t":3.3,"v":3.9},{"t":3.46,"v":5.8},{"t":3.55,"v":4},{"t":3.62,"v":0.3},{"t":4.0,"v":0.1},{"t":4.5,"v":0.0},{"t":5.0,"v":0},{"t":5.5,"v":0},{"t":6.0,"v":0},{"t":6.3,"v":0.05},{"t":6.5,"v":-0.2},{"t":7.0,"v":-0.4},{"t":7.5,"v":-0.6},{"t":7.88,"v":-0.7},{"t":8.05,"v":0.2},{"t":8.22,"v":1.45},{"t":8.35,"v":0.2},{"t":8.45,"v":-0.75},{"t":8.8,"v":-0.8},{"t":9.0,"v":-1.0},{"t":9.5,"v":-1.1},{"t":10.0,"v":-1.2},{"t":10.5,"v":-1.4},{"t":11.0,"v":-1.7},{"t":11.5,"v":-1.8},{"t":12.0,"v":-1.75},{"t":12.3,"v":-1.65},{"t":12.5,"v":-1.75},{"t":13.0,"v":-1.75},{"t":13.48,"v":-1.7},{"t":13.7,"v":-0.8},{"t":13.85,"v":-0.4},{"t":14.1,"v":-0.2},{"t":14.27,"v":-0.05},{"t":14.5,"v":-0.2},{"t":14.6,"v":-0.3},{"t":15,"v":-0.25}],
"b11":[{"s":1,"t":0.74,"v":0.25},{"s":1,"t":2.16,"v":-1.0},{"s":2,"t":3.0,"v":0.35},{"s":2,"t":3.62,"v":0.25},{"s":3,"t":7.88,"v":-0.7},{"s":3,"t":8.45,"v":-0.75},{"s":4,"t":13.48,"v":-1.7},{"s":4,"t":14.55,"v":-0.2}],
"d11":[{"t":1.24,"b":-0.19,"v":1.3},{"t":1.81,"b":-0.69,"v":1.6},{"t":2.0,"b":-0.86,"v":1.9}],
"t12":[{"t":0,"v":0},{"t":0.51,"v":0.1},{"t":0.9,"v":0.2},{"t":0.99,"v":1.0},{"t":1.04,"v":4},{"t":1.09,"v":6.3},{"t":1.15,"v":3},{"t":1.22,"v":1.1},{"t":1.31,"v":0.9},{"t":1.5,"v":1.0},{"t":1.7,"v":1.8},{"t":1.82,"v":1.5},{"t":1.92,"v":3},{"t":1.98,"v":8.6},{"t":2.03,"v":6},{"t":2.1,"v":15.1},{"t":2.15,"v":3.5},{"t":2.2,"v":0.6},{"t":2.26,"v":0.5},{"t":2.35,"v":1.0},{"t":2.66,"v":1.0},{"t":2.85,"v":1.1},{"t":3.0,"v":1.6},{"t":3.19,"v":2.3},{"t":3.32,"v":2.2},{"t":3.5,"v":3.0},{"t":3.6,"v":1.6},{"t":3.7,"v":0.9},{"t":4.0,"v":0.95},{"t":4.3,"v":1.0},{"t":4.6,"v":0.85},{"t":5.0,"v":0.8},{"t":5.2,"v":0.7},{"t":5.4,"v":0.8},{"t":5.88,"v":1.0},{"t":6.05,"v":1.05},{"t":6.24,"v":1.2},{"t":6.38,"v":1.9},{"t":6.49,"v":2.4},{"t":6.6,"v":1.5},{"t":6.69,"v":0.55},{"t":7.0,"v":0.5},{"t":7.5,"v":0.6},{"t":8.0,"v":0.35},{"t":8.5,"v":0.1},{"t":9.0,"v":-0.4},{"t":9.5,"v":-0.7},{"t":10.0,"v":-1.0},{"t":10.5,"v":-1.2},{"t":11.0,"v":-1.45},{"t":11.25,"v":-1.5},{"t":11.6,"v":-1.35},{"t":11.93,"v":-1.15},{"t":12.2,"v":-1.5},{"t":12.5,"v":-1.55},{"t":13.0,"v":-1.45},{"t":13.5,"v":-1.3},{"t":13.65,"v":-0.8},{"t":13.8,"v":-0.3},{"t":14.0,"v":-0.2},{"t":15,"v":-0.1}],
"b12":[{"s":1,"t":0.53,"v":0.1},{"s":1,"t":3.78,"v":0.8},{"s":2,"t":5.4,"v":0.8},{"s":2,"t":6.69,"v":0.55},{"s":3,"t":11.6,"v":-1.35},{"s":3,"t":12.3,"v":-1.52}],
"d12":[{"t":1.31,"b":0.27,"v":0.9},{"t":1.82,"b":0.38,"v":1.5},{"t":2.03,"b":0.42,"v":6},{"t":2.66,"b":0.56,"v":1.0},{"t":3.32,"b":0.7,"v":2.2},{"t":5.88,"b":0.71,"v":1.0},{"t":6.24,"b":0.64,"v":1.2}]
},
"vconcat":[
{"vconcat":[
{"vconcat":[
{"vconcat":[
{"vconcat":[
{"hconcat":[
{"width":890,"height":203,
"encoding":{"x":{"field":"t","type":"quantitative","scale":{"domain":[0,15],"nice":false,"zero":false},"axis":{"values":[0,0.5,1,1.5,2,2.5,3,3.5,4,4.5,5,5.5,6,6.5,7,7.5,8,8.5,9,9.5,10,10.5,11,11.5,12,12.5,13,13.5,14,14.5,15],"labelExpr":"abs(datum.value/2.5-round(datum.value/2.5))<0.001 && datum.value<14 ? format(datum.value,'.1f') : ''","title":"min","titleAnchor":"end","titleAlign":"right","titlePadding":-3}},
"y":{"field":"v","type":"quantitative","scale":{"domain":[-3.9,44.4],"nice":false,"zero":false},"axis":{"values":[0,5,10,15,20,25,30,35,40],"labelExpr":"datum.value % 10 == 0 ? datum.label : ''","title":null}}},
"layer":[
{"data":{"name":"b1"},"mark":{"type":"line","color":"#222","strokeWidth":0.8,"clip":true},"encoding":{"detail":{"field":"s"}}},
{"data":{"name":"d1"},"mark":{"type":"rule","color":"#222","strokeWidth":0.8,"clip":true},"encoding":{"y2":{"field":"b"}}},
{"data":{"name":"t1"},"mark":{"type":"line","color":"#111","strokeWidth":1,"clip":true},"encoding":{}},
{"data":{"values":[{"t":13.95,"v":4.8,"txt":"NGM31"}]},"mark":{"type":"text","font":"Liberation Sans Narrow, Liberation Sans","fontSize":22,"align":"center","baseline":"middle","color":"#000"},"encoding":{"text":{"field":"txt"}}},
{"data":{"values":[{"t":15,"v":44.4,"txt":"PDA Multi 1 254nm,4nm"}]},"mark":{"type":"text","font":"Liberation Sans","fontSize":14,"align":"right","baseline":"top","dx":-3,"dy":3,"color":"#000"},"encoding":{"text":{"field":"txt"}}}
]},
{"width":896,"height":203,
"encoding":{"x":{"field":"t","type":"quantitative","scale":{"domain":[0,15],"nice":false,"zero":false},"axis":{"values":[0,0.5,1,1.5,2,2.5,3,3.5,4,4.5,5,5.5,6,6.5,7,7.5,8,8.5,9,9.5,10,10.5,11,11.5,12,12.5,13,13.5,14,14.5,15],"labelExpr":"abs(datum.value/2.5-round(datum.value/2.5))<0.001 && datum.value<14 ? format(datum.value,'.1f') : ''","title":"min","titleAnchor":"end","titleAlign":"right","titlePadding":-3}},
"y":{"field":"v","type":"quantitative","scale":{"domain":[-4.6,72],"nice":false,"zero":false},"axis":{"values":[0,5,10,15,20,25,30,35,40,45,50,55,60,65,70],"labelExpr":"datum.value % 25 == 0 ? datum.label : ''","title":null}}},
"layer":[
{"data":{"name":"b2"},"mark":{"type":"line","color":"#222","strokeWidth":0.8,"clip":true},"encoding":{"detail":{"field":"s"}}},
{"data":{"name":"d2"},"mark":{"type":"rule","color":"#222","strokeWidth":0.8,"clip":true},"encoding":{"y2":{"field":"b"}}},
{"data":{"name":"t2"},"mark":{"type":"line","color":"#111","strokeWidth":1,"clip":true},"encoding":{}},
{"data":{"values":[{"t":14.05,"v":6.3,"txt":"SAM31"}]},"mark":{"type":"text","font":"Liberation Sans Narrow, Liberation Sans","fontSize":22,"align":"center","baseline":"middle","color":"#000"},"encoding":{"text":{"field":"txt"}}},
{"data":{"values":[{"t":15,"v":72,"txt":"PDA Multi 1 254nm,4nm"}]},"mark":{"type":"text","font":"Liberation Sans","fontSize":14,"align":"right","baseline":"top","dx":-3,"dy":3,"color":"#000"},"encoding":{"text":{"field":"txt"}}}
]}
],"spacing":18},
{"hconcat":[
{"width":890,"height":282,
"encoding":{"x":{"field":"t","type":"quantitative","scale":{"domain":[0,15],"nice":false,"zero":false},"axis":{"values":[0,0.5,1,1.5,2,2.5,3,3.5,4,4.5,5,5.5,6,6.5,7,7.5,8,8.5,9,9.5,10,10.5,11,11.5,12,12.5,13,13.5,14,14.5,15],"labelExpr":"abs(datum.value/2.5-round(datum.value/2.5))<0.001 && datum.value<14 ? format(datum.value,'.1f') : ''","title":null}},
"y":{"field":"v","type":"quantitative","scale":{"domain":[-4,26],"nice":false,"zero":false},"axis":{"values":[-2.5,0,2.5,5,7.5,10,12.5,15,17.5,20,22.5,25],"labelExpr":"datum.value % 10 == 0 ? datum.label : ''","title":null}}},
"layer":[
{"data":{"name":"b3"},"mark":{"type":"line","color":"#222","strokeWidth":0.8,"clip":true},"encoding":{"detail":{"field":"s"}}},
{"data":{"name":"d3"},"mark":{"type":"rule","color":"#222","strokeWidth":0.8,"clip":true},"encoding":{"y2":{"field":"b"}}},
{"data":{"name":"t3"},"mark":{"type":"line","color":"#111","strokeWidth":1,"clip":true},"encoding":{}},
{"data":{"values":[{"t":14.25,"v":1.9,"txt":"NGD31"}]},"mark":{"type":"text","font":"Liberation Sans Narrow, Liberation Sans","fontSize":22,"align":"center","baseline":"middle","color":"#000"},"encoding":{"text":{"field":"txt"}}},
{"data":{"values":[{"t":15,"v":26,"txt":"PDA Multi 1 254nm,4nm"}]},"mark":{"type":"text","font":"Liberation Sans","fontSize":14,"align":"right","baseline":"top","dx":-3,"dy":3,"color":"#000"},"encoding":{"text":{"field":"txt"}}}
]},
{"width":896,"height":282,
"encoding":{"x":{"field":"t","type":"quantitative","scale":{"domain":[0,15],"nice":false,"zero":false},"axis":{"values":[0,0.5,1,1.5,2,2.5,3,3.5,4,4.5,5,5.5,6,6.5,7,7.5,8,8.5,9,9.5,10,10.5,11,11.5,12,12.5,13,13.5,14,14.5,15],"labelExpr":"abs(datum.value/2.5-round(datum.value/2.5))<0.001 && datum.value<14 ? format(datum.value,'.1f') : ''","title":null}},
"y":{"field":"v","type":"quantitative","scale":{"domain":[-3.5,12.5],"nice":false,"zero":false},"axis":{"values":[-3,-2,-1,0,1,2,3,4,5,6,7,8,9,10,11,12],"labelExpr":"datum.value % 5 == 0 ? datum.label : ''","title":null}}},
"layer":[
{"data":{"name":"b4"},"mark":{"type":"line","color":"#222","strokeWidth":0.8,"clip":true},"encoding":{"detail":{"field":"s"}}},
{"data":{"name":"d4"},"mark":{"type":"rule","color":"#222","strokeWidth":0.8,"clip":true},"encoding":{"y2":{"field":"b"}}},
{"data":{"name":"t4"},"mark":{"type":"line","color":"#111","strokeWidth":1,"clip":true},"encoding":{}},
{"data":{"values":[{"t":14.14,"v":1.54,"txt":"SAD31"}]},"mark":{"type":"text","font":"Liberation Sans Narrow, Liberation Sans","fontSize":22,"align":"center","baseline":"middle","color":"#000"},"encoding":{"text":{"field":"txt"}}},
{"data":{"values":[{"t":15,"v":12.5,"txt":"PDA Multi 1 254nm,4nm"}]},"mark":{"type":"text","font":"Liberation Sans","fontSize":14,"align":"right","baseline":"top","dx":-3,"dy":3,"color":"#000"},"encoding":{"text":{"field":"txt"}}}
]}
],"spacing":18}
],"spacing":16},
{"hconcat":[
{"width":890,"height":286,
"encoding":{"x":{"field":"t","type":"quantitative","scale":{"domain":[0,15],"nice":false,"zero":false},"axis":{"values":[0,0.5,1,1.5,2,2.5,3,3.5,4,4.5,5,5.5,6,6.5,7,7.5,8,8.5,9,9.5,10,10.5,11,11.5,12,12.5,13,13.5,14,14.5,15],"labelExpr":"abs(datum.value/2.5-round(datum.value/2.5))<0.001 && datum.value<14 ? format(datum.value,'.1f') : ''","title":null}},
"y":{"field":"v","type":"quantitative","scale":{"domain":[-2.8,19.5],"nice":false,"zero":false},"axis":{"values":[-2,-1,0,1,2,3,4,5,6,7,8,9,10,11,12,13,14,15,16,17,18,19],"labelExpr":"datum.value % 5 == 0 ? datum.label : ''","title":null}}},
"layer":[
{"data":{"name":"b5"},"mark":{"type":"line","color":"#222","strokeWidth":0.8,"clip":true},"encoding":{"detail":{"field":"s"}}},
{"data":{"name":"d5"},"mark":{"type":"rule","color":"#222","strokeWidth":0.8,"clip":true},"encoding":{"y2":{"field":"b"}}},
{"data":{"name":"t5"},"mark":{"type":"line","color":"#111","strokeWidth":1,"clip":true},"encoding":{}},
{"data":{"values":[{"t":13.8,"v":1.6,"txt":"NGD+M 31"}]},"mark":{"type":"text","font":"Liberation Sans Narrow, Liberation Sans","fontSize":22,"align":"center","baseline":"middle","color":"#000"},"encoding":{"text":{"field":"txt"}}},
{"data":{"values":[{"t":15,"v":19.5,"txt":"PDA Multi 1 254nm,4nm"}]},"mark":{"type":"text","font":"Liberation Sans","fontSize":14,"align":"right","baseline":"top","dx":-3,"dy":3,"color":"#000"},"encoding":{"text":{"field":"txt"}}}
]},
{"width":896,"height":286,
"encoding":{"x":{"field":"t","type":"quantitative","scale":{"domain":[0,15],"nice":false,"zero":false},"axis":{"values":[0,0.5,1,1.5,2,2.5,3,3.5,4,4.5,5,5.5,6,6.5,7,7.5,8,8.5,9,9.5,10,10.5,11,11.5,12,12.5,13,13.5,14,14.5,15],"labelExpr":"abs(datum.value/2.5-round(datum.value/2.5))<0.001 && datum.value<14 ? format(datum.value,'.1f') : ''","title":null}},
"y":{"field":"v","type":"quantitative","scale":{"domain":[-2.4,15.3],"nice":false,"zero":false},"axis":{"values":[-2,-1,0,1,2,3,4,5,6,7,8,9,10,11,12,13,14,15],"labelExpr":"datum.value % 5 == 0 ? datum.label : ''","title":null}}},
"layer":[
{"data":{"name":"b6"},"mark":{"type":"line","color":"#222","strokeWidth":0.8,"clip":true},"encoding":{"detail":{"field":"s"}}},
{"data":{"name":"d6"},"mark":{"type":"rule","color":"#222","strokeWidth":0.8,"clip":true},"encoding":{"y2":{"field":"b"}}},
{"data":{"name":"t6"},"mark":{"type":"line","color":"#111","strokeWidth":1,"clip":true},"encoding":{}},
{"data":{"values":[{"t":13.97,"v":1.12,"txt":"SAD+M 31"}]},"mark":{"type":"text","font":"Liberation Sans Narrow, Liberation Sans","fontSize":22,"align":"center","baseline":"middle","color":"#000"},"encoding":{"text":{"field":"txt"}}},
{"data":{"values":[{"t":15,"v":15.3,"txt":"PDA Multi 1 254nm,4nm"}]},"mark":{"type":"text","font":"Liberation Sans","fontSize":14,"align":"right","baseline":"top","dx":-3,"dy":3,"color":"#000"},"encoding":{"text":{"field":"txt"}}}
]}
],"spacing":18}
],"spacing":22},
{"hconcat":[
{"width":890,"height":192,
"encoding":{"x":{"field":"t","type":"quantitative","scale":{"domain":[0,15],"nice":false,"zero":false},"axis":{"values":[0,0.5,1,1.5,2,2.5,3,3.5,4,4.5,5,5.5,6,6.5,7,7.5,8,8.5,9,9.5,10,10.5,11,11.5,12,12.5,13,13.5,14,14.5,15],"labelExpr":"abs(datum.value/2.5-round(datum.value/2.5))<0.001 && datum.value<14 ? format(datum.value,'.1f') : ''","title":"min","titleAnchor":"end","titleAlign":"right","titlePadding":-3}},
"y":{"field":"v","type":"quantitative","scale":{"domain":[-3.7,31.4],"nice":false,"zero":false},"axis":{"values":[-2.5,0,2.5,5,7.5,10,12.5,15,17.5,20,22.5,25,27.5,30],"labelExpr":"datum.value % 10 == 0 ? datum.label : ''","title":null}}},
"layer":[
{"data":{"name":"b7"},"mark":{"type":"line","color":"#222","strokeWidth":0.8,"clip":true},"encoding":{"detail":{"field":"s"}}},
{"data":{"name":"d7"},"mark":{"type":"rule","color":"#222","strokeWidth":0.8,"clip":true},"encoding":{"y2":{"field":"b"}}},
{"data":{"name":"t7"},"mark":{"type":"line","color":"#111","strokeWidth":1,"clip":true},"encoding":{}},
{"data":{"values":[{"t":14.03,"v":2.6,"txt":"NGM32"}]},"mark":{"type":"text","font":"Liberation Sans Narrow, Liberation Sans","fontSize":22,"align":"center","baseline":"middle","color":"#000"},"encoding":{"text":{"field":"txt"}}},
{"data":{"values":[{"t":15,"v":31.4,"txt":"PDA Multi 1 254nm,4nm"}]},"mark":{"type":"text","font":"Liberation Sans","fontSize":14,"align":"right","baseline":"top","dx":-3,"dy":3,"color":"#000"},"encoding":{"text":{"field":"txt"}}}
]},
{"width":896,"height":192,
"encoding":{"x":{"field":"t","type":"quantitative","scale":{"domain":[0,15],"nice":false,"zero":false},"axis":{"values":[0,0.5,1,1.5,2,2.5,3,3.5,4,4.5,5,5.5,6,6.5,7,7.5,8,8.5,9,9.5,10,10.5,11,11.5,12,12.5,13,13.5,14,14.5,15],"labelExpr":"abs(datum.value/2.5-round(datum.value/2.5))<0.001 && datum.value<14 ? format(datum.value,'.1f') : ''","title":null}},
"y":{"field":"v","type":"quantitative","scale":{"domain":[-40,695],"nice":false,"zero":false},"axis":{"values":[0,50,100,150,200,250,300,350,400,450,500,550,600,650],"labelExpr":"datum.value % 250 == 0 ? datum.label : ''","title":null}}},
"layer":[
{"data":{"name":"b8"},"mark":{"type":"line","color":"#222","strokeWidth":0.8,"clip":true},"encoding":{"detail":{"field":"s"}}},
{"data":{"name":"d8"},"mark":{"type":"rule","color":"#222","strokeWidth":0.8,"clip":true},"encoding":{"y2":{"field":"b"}}},
{"data":{"name":"t8"},"mark":{"type":"line","color":"#111","strokeWidth":1,"clip":true},"encoding":{}},
{"data":{"values":[{"t":14.1,"v":50,"txt":"SAM32"}]},"mark":{"type":"text","font":"Liberation Sans Narrow, Liberation Sans","fontSize":22,"align":"center","baseline":"middle","color":"#000"},"encoding":{"text":{"field":"txt"}}},
{"data":{"values":[{"t":15,"v":695,"txt":"PDA Multi 1 254nm,4nm"}]},"mark":{"type":"text","font":"Liberation Sans","fontSize":14,"align":"right","baseline":"top","dx":-3,"dy":3,"color":"#000"},"encoding":{"text":{"field":"txt"}}}
]}
],"spacing":18}
],"spacing":15},
{"hconcat":[
{"width":890,"height":261,
"encoding":{"x":{"field":"t","type":"quantitative","scale":{"domain":[0,15],"nice":false,"zero":false},"axis":{"values":[0,0.5,1,1.5,2,2.5,3,3.5,4,4.5,5,5.5,6,6.5,7,7.5,8,8.5,9,9.5,10,10.5,11,11.5,12,12.5,13,13.5,14,14.5,15],"labelExpr":"abs(datum.value/2.5-round(datum.value/2.5))<0.001 && datum.value<14 ? format(datum.value,'.1f') : ''","title":null}},
"y":{"field":"v","type":"quantitative","scale":{"domain":[-3.6,13.5],"nice":false,"zero":false},"axis":{"values":[-3,-2,-1,0,1,2,3,4,5,6,7,8,9,10,11,12,13],"labelExpr":"datum.value == 10 ? '0' : (datum.value % 5 == 0 ? datum.label : '')","title":null}}},
"layer":[
{"data":{"name":"b9"},"mark":{"type":"line","color":"#222","strokeWidth":0.8,"clip":true},"encoding":{"detail":{"field":"s"}}},
{"data":{"name":"d9"},"mark":{"type":"rule","color":"#222","strokeWidth":0.8,"clip":true},"encoding":{"y2":{"field":"b"}}},
{"data":{"name":"t9"},"mark":{"type":"line","color":"#111","strokeWidth":1,"clip":true},"encoding":{}},
{"data":{"values":[{"t":14.1,"v":0.7,"txt":"NGD32"}]},"mark":{"type":"text","font":"Liberation Sans Narrow, Liberation Sans","fontSize":22,"align":"center","baseline":"middle","color":"#000"},"encoding":{"text":{"field":"txt"}}},
{"data":{"values":[{"t":15,"v":13.5,"txt":"PDA Multi 1 254nm,4nm"}]},"mark":{"type":"text","font":"Liberation Sans","fontSize":14,"align":"right","baseline":"top","dx":-3,"dy":3,"color":"#000"},"encoding":{"text":{"field":"txt"}}}
]},
{"width":896,"height":261,
"encoding":{"x":{"field":"t","type":"quantitative","scale":{"domain":[0,15],"nice":false,"zero":false},"axis":{"values":[0,0.5,1,1.5,2,2.5,3,3.5,4,4.5,5,5.5,6,6.5,7,7.5,8,8.5,9,9.5,10,10.5,11,11.5,12,12.5,13,13.5,14,14.5,15],"labelExpr":"abs(datum.value/2.5-round(datum.value/2.5))<0.001 && datum.value<14 ? format(datum.value,'.1f') : ''","title":null}},
"y":{"field":"v","type":"quantitative","scale":{"domain":[-3.6,13.2],"nice":false,"zero":false},"axis":{"values":[-3,-2,-1,0,1,2,3,4,5,6,7,8,9,10,11,12,13],"labelExpr":"datum.value % 5 == 0 ? datum.label : ''","title":null}}},
"layer":[
{"data":{"name":"b10"},"mark":{"type":"line","color":"#222","strokeWidth":0.8,"clip":true},"encoding":{"detail":{"field":"s"}}},
{"data":{"name":"d10"},"mark":{"type":"rule","color":"#222","strokeWidth":0.8,"clip":true},"encoding":{"y2":{"field":"b"}}},
{"data":{"name":"t10"},"mark":{"type":"line","color":"#111","strokeWidth":1,"clip":true},"encoding":{}},
{"data":{"values":[{"t":14.05,"v":0.88,"txt":"SAD32"}]},"mark":{"type":"text","font":"Liberation Sans Narrow, Liberation Sans","fontSize":22,"align":"center","baseline":"middle","color":"#000"},"encoding":{"text":{"field":"txt"}}},
{"data":{"values":[{"t":15,"v":13.2,"txt":"PDA Multi 1 254nm,4nm"}]},"mark":{"type":"text","font":"Liberation Sans","fontSize":14,"align":"right","baseline":"top","dx":-3,"dy":3,"color":"#000"},"encoding":{"text":{"field":"txt"}}}
]}
],"spacing":18}
],"spacing":16},
{"hconcat":[
{"width":890,"height":236,
"encoding":{"x":{"field":"t","type":"quantitative","scale":{"domain":[0,15],"nice":false,"zero":false},"axis":{"values":[0,0.5,1,1.5,2,2.5,3,3.5,4,4.5,5,5.5,6,6.5,7,7.5,8,8.5,9,9.5,10,10.5,11,11.5,12,12.5,13,13.5,14,14.5,15],"labelExpr":"abs(datum.value/2.5-round(datum.value/2.5))<0.001 && datum.value<14 ? format(datum.value,'.1f') : ''","title":null}},
"y":{"field":"v","type":"quantitative","scale":{"domain":[-2.6,13.7],"nice":false,"zero":false},"axis":{"values":[-2,-1,0,1,2,3,4,5,6,7,8,9,10,11,12,13],"labelExpr":"datum.value % 5 == 0 ? datum.label : ''","title":null}}},
"layer":[
{"data":{"name":"b11"},"mark":{"type":"line","color":"#222","strokeWidth":0.8,"clip":true},"encoding":{"detail":{"field":"s"}}},
{"data":{"name":"d11"},"mark":{"type":"rule","color":"#222","strokeWidth":0.8,"clip":true},"encoding":{"y2":{"field":"b"}}},
{"data":{"name":"t11"},"mark":{"type":"line","color":"#111","strokeWidth":1,"clip":true},"encoding":{}},
{"data":{"values":[{"t":13.85,"v":0.8,"txt":"NGD+M32"}]},"mark":{"type":"text","font":"Liberation Sans Narrow, Liberation Sans","fontSize":22,"align":"center","baseline":"middle","color":"#000"},"encoding":{"text":{"field":"txt"}}},
{"data":{"values":[{"t":15,"v":13.7,"txt":"PDA Multi 1 254nm,4nm"}]},"mark":{"type":"text","font":"Liberation Sans","fontSize":14,"align":"right","baseline":"top","dx":-3,"dy":3,"color":"#000"},"encoding":{"text":{"field":"txt"}}}
]},
{"width":896,"height":236,
"encoding":{"x":{"field":"t","type":"quantitative","scale":{"domain":[0,15],"nice":false,"zero":false},"axis":{"values":[0,0.5,1,1.5,2,2.5,3,3.5,4,4.5,5,5.5,6,6.5,7,7.5,8,8.5,9,9.5,10,10.5,11,11.5,12,12.5,13,13.5,14,14.5,15],"labelExpr":"abs(datum.value/2.5-round(datum.value/2.5))<0.001 && datum.value<14 ? format(datum.value,'.1f') : ''","title":null}},
"y":{"field":"v","type":"quantitative","scale":{"domain":[-2.45,15.9],"nice":false,"zero":false},"axis":{"values":[-2,-1,0,1,2,3,4,5,6,7,8,9,10,11,12,13,14,15],"labelExpr":"datum.value % 5 == 0 ? datum.label : ''","title":null}}},
"layer":[
{"data":{"name":"b12"},"mark":{"type":"line","color":"#222","strokeWidth":0.8,"clip":true},"encoding":{"detail":{"field":"s"}}},
{"data":{"name":"d12"},"mark":{"type":"rule","color":"#222","strokeWidth":0.8,"clip":true},"encoding":{"y2":{"field":"b"}}},
{"data":{"name":"t12"},"mark":{"type":"line","color":"#111","strokeWidth":1,"clip":true},"encoding":{}},
{"data":{"values":[{"t":14.1,"v":0.75,"txt":"SAD+M32"}]},"mark":{"type":"text","font":"Liberation Sans Narrow, Liberation Sans","fontSize":22,"align":"center","baseline":"middle","color":"#000"},"encoding":{"text":{"field":"txt"}}},
{"data":{"values":[{"t":15,"v":15.9,"txt":"PDA Multi 1 254nm,4nm"}]},"mark":{"type":"text","font":"Liberation Sans","fontSize":14,"align":"right","baseline":"top","dx":-3,"dy":3,"color":"#000"},"encoding":{"text":{"field":"txt"}}}
]}
],"spacing":18}
],"spacing":39}
